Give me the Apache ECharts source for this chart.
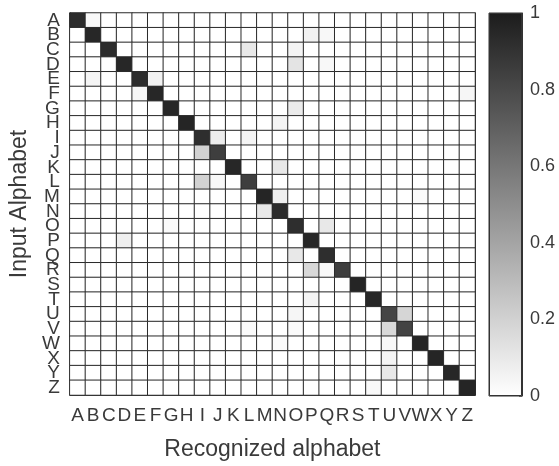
<!DOCTYPE html>
<html>
<head>
<meta charset="utf-8">
<script src="https://cdn.jsdelivr.net/npm/echarts@6/dist/echarts.min.js"></script>
<style>
  html, body { margin: 0; padding: 0; background: #fff; }
  #chart { width: 559px; height: 466px; }
</style>
</head>
<body>
<div id="chart"></div>
<script>
// alphabet used for both axes
var letters = 'ABCDEFGHIJKLMNOPQRSTUVWXYZ'.split('')
// recognition rate on the diagonal, A..Z
var diagValues = [0.93, 0.95, 0.93, 0.95, 0.93, 0.95, 0.95, 0.96, 0.92, 0.85, 0.95, 0.85, 0.96,
  0.93, 0.92, 0.95, 0.92, 0.85, 0.96, 0.95, 0.82, 0.83, 0.96, 0.96, 0.95, 0.96]
// confusions: [input letter, recognized letter, rate]
var confusions = [
  ['A', 'B', 0.03], ['B', 'P', 0.06], ['B', 'Q', 0.03], ['C', 'L', 0.1], ['C', 'O', 0.05],
  ['D', 'O', 0.12], ['D', 'Q', 0.03], ['E', 'B', 0.05], ['E', 'F', 0.06], ['F', 'E', 0.04],
  ['F', 'Z', 0.04], ['G', 'O', 0.09], ['H', 'N', 0.05], ['I', 'J', 0.08], ['I', 'L', 0.05],
  ['J', 'I', 0.2], ['K', 'N', 0.1], ['L', 'I', 0.2], ['L', 'J', 0.03], ['M', 'N', 0.07],
  ['M', 'W', 0.02], ['N', 'M', 0.1], ['O', 'G', 0.02], ['O', 'Q', 0.1], ['P', 'D', 0.07],
  ['Q', 'O', 0.1], ['R', 'P', 0.17], ['R', 'Q', 0.03], ['T', 'P', 0.05], ['U', 'O', 0.04],
  ['U', 'V', 0.18], ['V', 'L', 0.02], ['V', 'O', 0.02], ['V', 'U', 0.17], ['W', 'N', 0.02],
  ['W', 'U', 0.03], ['X', 'U', 0.05], ['Y', 'U', 0.1], ['Z', 'T', 0.03]
]
var colorbarTicks = [0, 0.2, 0.4, 0.6, 0.8, 1]

var txt = '#3a3a3a'
var font = 'Liberation Sans'

// build full matrix, zeros everywhere else
var cells = []
for (var r = 0; r < letters.length; r++) {
  for (var c = 0; c < letters.length; c++) {
    cells.push([c, r, r === c ? diagValues[r] : 0])
  }
}
confusions.forEach(function (d) {
  var r = letters.indexOf(d[0])
  var c = letters.indexOf(d[1])
  cells[r * letters.length + c][2] = d[2]
})

var chart = echarts.init(document.getElementById('chart'))
var opt = {
  animation: false,
  textStyle: { fontFamily: font },
  grid: [
    { left: 68, top: 13, width: 407, height: 383 },
    { left: 489, top: 13, width: 33, height: 383, show: true, borderColor: '#333', borderWidth: 1 }
  ],
  xAxis: [
    {
      type: 'category', gridIndex: 0, data: letters, position: 'bottom',
      name: 'Recognized alphabet', nameLocation: 'middle', nameGap: 43,
      nameTextStyle: { fontSize: 23, color: txt, fontFamily: font },
      axisLine: { lineStyle: { color: '#222' } },
      axisTick: { inside: true, length: 3, alignWithLabel: true, lineStyle: { color: '#555' } },
      axisLabel: { interval: 0, fontSize: 19, color: txt, margin: 11 },
      splitLine: { show: false }
    },
    {
      type: 'category', gridIndex: 0, data: letters, position: 'top',
      axisLine: { lineStyle: { color: '#222' } },
      axisTick: { inside: true, length: 3, alignWithLabel: true, lineStyle: { color: '#555' } },
      axisLabel: { show: false }
    },
    {
      type: 'category', gridIndex: 1, data: [''],
      axisLine: { show: false }, axisTick: { show: false }, axisLabel: { show: false }
    }
  ],
  yAxis: [
    {
      type: 'category', gridIndex: 0, data: letters, inverse: true, position: 'left',
      name: 'Input Alphabet', nameLocation: 'middle', nameGap: 36,
      nameTextStyle: { fontSize: 23, color: txt, fontFamily: font },
      axisLine: { lineStyle: { color: '#222' } },
      axisTick: { inside: true, length: 3, alignWithLabel: true, lineStyle: { color: '#555' } },
      axisLabel: { interval: 0, fontSize: 19, color: txt, margin: 10 }
    },
    {
      type: 'category', gridIndex: 0, data: letters, inverse: true, position: 'right',
      axisLine: { lineStyle: { color: '#222' } },
      axisTick: { inside: true, length: 3, alignWithLabel: true, lineStyle: { color: '#555' } },
      axisLabel: { show: false }
    },
    {
      type: 'value', gridIndex: 1, position: 'right', min: 0, max: 1, interval: 0.2,
      axisLine: { show: true, lineStyle: { color: '#333' } },
      axisTick: { show: true, inside: true, length: 3, lineStyle: { color: '#555' } },
      axisLabel: {
        fontSize: 18, color: txt, margin: 8,
        formatter: function (v) { return colorbarTicks.indexOf(Math.round(v * 10) / 10) >= 0 ? String(Math.round(v * 10) / 10) : '' }
      },
      splitLine: { show: false }
    }
  ],
  visualMap: {
    show: false, seriesIndex: 0, min: 0, max: 1,
    inRange: { color: ['#ffffff', '#1c1c1c'] }
  },
  series: [
    {
      type: 'heatmap', xAxisIndex: 0, yAxisIndex: 0, data: cells,
      itemStyle: { borderColor: '#2a2a2a', borderWidth: 1 },
      emphasis: { disabled: true }
    },
    {
      type: 'bar', xAxisIndex: 2, yAxisIndex: 2, data: [colorbarTicks[colorbarTicks.length - 1]],
      barWidth: '100%', silent: true,
      itemStyle: {
        borderColor: '#333', borderWidth: 1,
        color: {
          type: 'linear', x: 0, y: 0, x2: 0, y2: 1,
          colorStops: [{ offset: 0, color: '#1c1c1c' }, { offset: 1, color: '#ffffff' }]
        }
      }
    }
  ]
}
chart.setOption(opt)
</script>
</body>
</html>
